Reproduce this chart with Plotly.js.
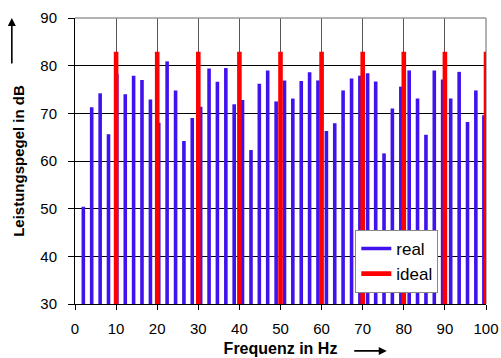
<!DOCTYPE html>
<html>
<head>
<meta charset="utf-8">
<script src="https://cdn.plot.ly/plotly-3.0.1.min.js"></script>
<style>html,body{margin:0;padding:0;background:#fff;}#chart{width:501px;height:358px;}</style>
</head>
<body>
<div id="chart"></div>
<script>
// Frequencies (Hz) of the measured ("real") lines
const freqReal = [2.03, 4.06, 6.12, 8.15, 10.18, 12.23, 14.26, 16.30, 18.35, 20.38,
  22.41, 24.47, 26.50, 28.53, 30.58, 32.62, 34.65, 36.70, 38.73, 40.76,
  42.82, 44.85, 46.88, 48.94, 50.97, 53.00, 55.05, 57.08, 59.12, 61.17,
  63.20, 65.23, 67.29, 69.32, 71.20, 73.16, 75.19, 77.22, 79.28, 81.31,
  83.34, 85.39, 87.42, 89.45, 91.41, 93.47, 95.50, 97.53, 99.49];
// Power levels (dB) of the measured lines
const levelReal = [50.4, 71.3, 74.2, 65.6, 78.3, 74.0, 77.9, 77.0, 72.9, 68.0,
  80.9, 74.8, 64.2, 69.0, 71.4, 79.4, 76.6, 79.5, 71.9, 72.8,
  62.3, 76.2, 79.0, 72.5, 76.9, 73.1, 76.8, 78.6, 76.9, 66.3,
  67.9, 74.8, 77.3, 77.9, 78.4, 76.7, 61.6, 71.0, 75.6, 79.0,
  73.1, 65.5, 79.0, 77.1, 73.1, 78.7, 68.2, 74.8, 69.6];
// Ideal lines
const freqIdeal = [10, 20, 30, 40, 50, 60, 70, 80, 90, 100];
const levelIdeal = [82.9, 82.9, 82.9, 82.9, 82.9, 82.9, 82.9, 82.9, 82.9, 82.9];
// Axis
const yMin = 30, yMax = 90;
const xTicks = [0, 10, 20, 30, 40, 50, 60, 70, 80, 90, 100];
const yTicks = [30, 40, 50, 60, 70, 80, 90];

function stems(xs, ys) {
  const X = [], Y = [];
  xs.forEach((x, i) => { X.push(x, x, null); Y.push(yMin, ys[i], null); });
  return {X, Y};
}
const r = stems(freqReal, levelReal);
const d = stems(freqIdeal, levelIdeal);

const font = 'Liberation Sans, Arial, sans-serif';
const traces = [
  {x: r.X, y: r.Y, type: 'scatter', mode: 'lines', name: 'real',
   line: {color: '#4012EE', width: 3.6}, cliponaxis: true},
  {x: d.X, y: d.Y, type: 'scatter', mode: 'lines', name: 'ideal',
   line: {color: '#FF0000', width: 4.6}}
];
const layout = {
  width: 501, height: 358,
  margin: {l: 75, r: 15, t: 18, b: 54, pad: 0},
  paper_bgcolor: '#fff', plot_bgcolor: '#fff',
  font: {family: font, size: 15, color: '#000'},
  showlegend: true,
  legend: {x: 0.682, y: 0.259, xanchor: 'left', yanchor: 'top',
    bgcolor: '#fff', bordercolor: '#888', borderwidth: 1,
    font: {family: font, size: 17, color: '#000'}, tracegroupgap: 0},
  xaxis: {range: [0, 100], tickvals: xTicks, ticktext: xTicks.map(String),
    showgrid: true, gridcolor: '#555', gridwidth: 1, zeroline: false,
    showline: true, linecolor: '#000', linewidth: 1,
    ticks: 'outside', ticklen: 5, tickcolor: '#000', ticklabelstandoff: 6,
    title: {text: '<b>Frequenz in Hz</b>', font: {family: font, size: 16, color: '#000'}, standoff: 6},
    automargin: false, fixedrange: true},
  yaxis: {range: [yMin, yMax], tickvals: yTicks, ticktext: yTicks.map(String),
    showgrid: true, gridcolor: '#000', gridwidth: 1, zeroline: false,
    showline: true, linecolor: '#000', linewidth: 1,
    ticks: 'outside', ticklen: 6, tickcolor: '#000', ticklabelstandoff: 8,
    title: {text: '<b>Leistungspegel in dB</b>', font: {family: font, size: 15, color: '#000'}, standoff: 12},
    automargin: false, fixedrange: true},
  shapes: [
    {type: 'line', xref: 'paper', yref: 'paper', x0: 0, x1: 1, y0: 1, y1: 1,
     line: {color: '#999', width: 1.5}, layer: 'above'},
    {type: 'line', xref: 'paper', yref: 'paper', x0: 1, x1: 1, y0: 0, y1: 1,
     line: {color: '#999', width: 1.5}, layer: 'below'}
  ],
  annotations: [
    {xref: 'paper', yref: 'paper', x: 0.7585, y: -0.164, ax: -34, ay: 0,
     text: '', showarrow: true, arrowhead: 2, arrowsize: 1, arrowwidth: 1.6, arrowcolor: '#000'},
    {xref: 'paper', yref: 'paper', x: -0.1537, y: 1.0, ax: 0, ay: 47,
     text: '', showarrow: true, arrowhead: 2, arrowsize: 1, arrowwidth: 1.6, arrowcolor: '#000'}
  ]
};
Plotly.newPlot('chart', traces, layout, {staticPlot: true, displayModeBar: false});
</script>
</body>
</html>
